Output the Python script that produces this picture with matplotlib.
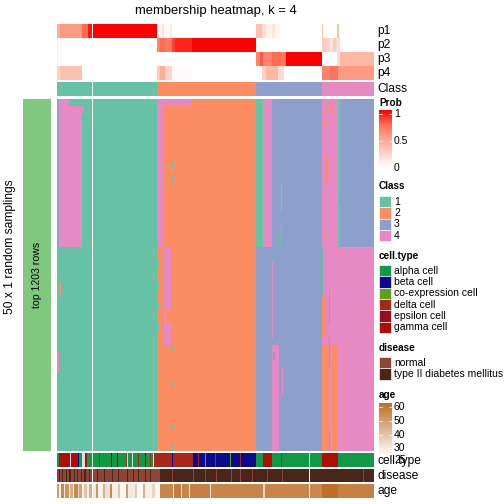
import numpy as np
import matplotlib.pyplot as plt
from matplotlib.colors import ListedColormap, LinearSegmentedColormap
from matplotlib.patches import Rectangle

plt.rcParams['font.family'] = ['Liberation Sans', 'DejaVu Sans']

# ---------------- data ----------------
# samples are ordered left to right; the first column slice has 35 samples,
# the second slice 281. Runs are (number of samples, value).
n_first = 35

p1_runs = [(3, 0.45), (22, 0.55), (6, 0.75), (4, 0.95),
           (64, 1.0), (5, 0.05), (2, 0.15), (6, 0.02), (2, 0.12), (84, 0.0),
           (6, 0.35), (4, 0.2), (6, 0.08), (3, 0.15), (5, 0.05), (42, 0.0),
           (1, 0.35), (14, 0.0), (2, 0.35), (35, 0.0)]
p2_runs = [(1, 0.1), (34, 0.0),
           (64, 0.0), (3, 0.65), (5, 0.75), (7, 0.7), (3, 0.85), (17, 0.92),
           (64, 1.0), (66, 0.0), (3, 0.3), (5, 0.25), (3, 0.15), (3, 0.3),
           (4, 0.2), (34, 0.0)]
p3_runs = [(1, 0.1), (34, 0.0),
           (163, 0.0), (4, 0.65), (3, 0.8), (9, 0.65), (8, 0.75), (6, 0.7),
           (36, 1.0), (15, 0.0), (3, 0.2), (34, 0.4)]
p4_runs = [(3, 0.25), (22, 0.35), (10, 0.0),
           (64, 0.0), (3, 0.3), (5, 0.45), (7, 0.25), (20, 0.02), (70, 0.0),
           (4, 0.25), (12, 0.4), (6, 0.2), (38, 0.0), (8, 0.65), (8, 0.72),
           (36, 0.55)]
class_runs = [(35, 1), (64, 1), (99, 2), (66, 3), (52, 4)]

# membership of each sample in 50 random samplings (rows)
n_samplings = 50
n_upper = 21
upper_runs = [(2, 3), (23, 4), (10, 1),
              (64, 1), (7, 4), (92, 2), (7, 1), (9, 4), (50, 3), (16, 4),
              (1, 1), (1, 2), (34, 3)]
lower_runs = [(35, 1),
              (64, 1), (7, 2), (7, 2), (85, 2), (66, 3), (52, 4)]
# (first row, rows, first sample, samples, class)
overrides = [
    (0, 1, 12, 13, 1), (1, 1, 25, 2, 4), (0, 1, 106, 28, 4),
    (21, 14, 106, 7, 4), (30, 2, 108, 5, 2),
    (9, 1, 114, 1, 1), (11, 1, 114, 1, 1), (35, 1, 114, 1, 1),
    (40, 1, 114, 1, 1), (46, 1, 114, 1, 1), (49, 1, 114, 1, 1),
    (23, 1, 100, 1, 1), (26, 1, 100, 1, 1), (29, 1, 100, 1, 1), (32, 1, 100, 1, 1),
    (26, 2, 2, 2, 2),
    (12, 4, 223, 1, 4), (18, 1, 223, 1, 4), (19, 2, 222, 1, 1),
    (35, 15, 214, 7, 4), (23, 11, 214, 1, 4), (36, 1, 215, 2, 3),
    (38, 4, 224, 1, 4),
    (21, 7, 264, 1, 1), (28, 6, 264, 3, 2), (35, 15, 264, 7, 2),
    (35, 15, 274, 6, 2),
    (27, 5, 271, 1, 3), (34, 4, 271, 1, 3), (47, 3, 271, 1, 3),
    (1, 1, 267, 3, 2), (1, 1, 274, 2, 2), (3, 1, 267, 2, 2),
    (8, 4, 267, 3, 2), (19, 1, 267, 2, 2),
    (14, 1, 281, 1, 3), (36, 3, 0, 2, 4),
]

cell_types = ['alpha cell', 'beta cell', 'co-expression cell', 'delta cell',
              'epsilon cell', 'gamma cell']
NA = np.nan
celltype_runs = [(2, 0), (11, 5), (1, NA), (7, 5), (1, 1), (3, 0), (3, NA), (2, 5), (5, 0),
                 (6, 0), (1, 3), (11, 0), (1, 1), (5, 0), (1, 1), (8, 0), (1, 3), (1, NA),
                 (4, 0), (1, NA), (5, 0), (1, 3), (6, 0), (1, 1), (4, 0), (1, 3), (2, 0),
                 (1, NA), (3, 3),
                 (15, 3), (1, 1), (20, 3), (5, 1), (1, 3), (6, 1), (1, 2), (9, 1), (1, 3),
                 (14, 1), (1, 2), (9, 1), (1, 3), (15, 1),
                 (7, 0), (9, 5), (9, 0), (1, 3), (27, 0), (1, NA), (12, 0),
                 (16, 5), (36, 0)]
diseases = ['normal', 'type II diabetes mellitus']
disease_runs = [(2, 0), (1, 1), (2, 0), (1, 1), (3, 0), (1, 1), (2, 0), (2, 1), (3, 0),
                (1, 1), (2, 0), (1, 1), (3, 0), (1, 1), (2, 0), (2, 1), (3, 0), (1, 1), (2, 0),
                (4, 0), (1, 1), (6, 0), (1, 1), (7, 0), (1, 1), (5, 0), (1, 1), (8, 0),
                (1, 1), (5, 0), (1, 1), (4, 0), (1, 1), (6, 0), (1, 1), (4, 0), (1, 1), (9, 0),
                (12, 1), (1, 0), (20, 1), (1, 0), (11, 1), (1, 0), (10, 1), (1, 0),
                (14, 1), (1, 0), (8, 1), (1, 0), (11, 1), (1, 0), (14, 1), (1, 0),
                (14, 1), (1, 0), (26, 1), (1, NA), (53, 1), (1, 0), (10, 1)]
age_runs = [(2, 50), (2, 27), (3, 55), (1, 30), (4, 52), (1, 26), (3, 45), (1, 27),
            (4, 55), (1, 35), (3, 48), (2, 26), (3, 40), (2, 28), (3, 45),
            (3, 30), (2, 52), (5, 27), (2, 45), (5, 32), (2, 55), (6, 28), (2, 40),
            (6, 26), (2, 50), (7, 30), (2, 38), (6, 26), (2, 45), (7, 28), (3, 35),
            (5, 26),
            (13, 56), (1, 27), (7, 58), (1, 28), (7, 56), (1, 26), (20, 57), (1, 30),
            (52, 56), (2, 35), (44, 56), (1, NA), (12, 55), (16, 62), (36, 57)]

age_ticks = [60, 50, 40, 30, 25]
prob_ticks = [1, 0.5, 0]

# ---------------- helpers ----------------
def expand(runs):
    counts = [c for c, v in runs]
    vals = [v for c, v in runs]
    return np.repeat(np.array(vals, dtype=float), counts)


def with_gap(arr):
    return np.insert(arr, n_first, np.nan, axis=-1)


W = H = 504
fig = plt.figure(figsize=(7, 7), dpi=72)


def px_axes(x0, y0, x1, y1):
    ax = fig.add_axes([x0 / W, 1 - y1 / H, (x1 - x0) / W, (y1 - y0) / H])
    ax.axis('off')
    return ax


def draw_row(ax, mat, cmap, vmin, vmax):
    ax.imshow(mat, cmap=cmap, vmin=vmin, vmax=vmax, aspect='auto',
              interpolation='nearest')


class_colors = ['#66C2A5', '#FC8D62', '#8DA0CB', '#E78AC3']
cell_colors = ['#109A45', '#0A0A8E', '#5BA11B', '#A8261A', '#9A0E22', '#B00E05']
disease_colors = ['#8E4538', '#4A2519']

prob_cmap = LinearSegmentedColormap.from_list(
    'prob', ['#FFFFFF', '#FFD3C6', '#FFA68E', '#FF6E55', '#FF0000'])
prob_cmap.set_bad('white')
class_cmap = ListedColormap(class_colors)
class_cmap.set_bad('white')
cell_cmap = ListedColormap(cell_colors)
cell_cmap.set_bad('#DDDDDD')
dis_cmap = ListedColormap(disease_colors)
dis_cmap.set_bad('white')
age_cmap = LinearSegmentedColormap.from_list('age', ['#FFFFFF', '#C06E26'])
age_cmap.set_bad('white')

X0, X1 = 57, 374

# top annotation: membership probabilities
probs = np.vstack([expand(r) for r in [p1_runs, p2_runs, p3_runs, p4_runs]])
ax = px_axes(X0, 24, X1, 80)
draw_row(ax, with_gap(probs), prob_cmap, 0, 1)

ax = px_axes(X0, 82, X1, 96)
draw_row(ax, with_gap(expand(class_runs))[None, :], class_cmap, 0.5, 4.5)

# main heatmap
mat = np.zeros((n_samplings, n_first + 281))
mat[:n_upper] = expand(upper_runs)
mat[n_upper:] = expand(lower_runs)
for r0, nr, s0, ns, cl in overrides:
    mat[r0:r0 + nr, s0:s0 + ns] = cl
ax = px_axes(X0, 99, X1, 451)
draw_row(ax, with_gap(mat), class_cmap, 0.5, 4.5)

# bottom annotations
ax = px_axes(X0, 453, X1, 467)
draw_row(ax, with_gap(expand(celltype_runs))[None, :], cell_cmap, -0.5, 5.5)
ax = px_axes(X0, 469, X1, 482)
draw_row(ax, with_gap(expand(disease_runs))[None, :], dis_cmap, -0.5, 1.5)
ax = px_axes(X0, 484, X1, 498)
draw_row(ax, with_gap(expand(age_runs))[None, :], age_cmap, 24, 62)

# legend colour bars
ax = px_axes(379, 110, 392, 168)
ax.imshow(np.linspace(1, 0, 100)[:, None], cmap=prob_cmap, aspect='auto')
ax = px_axes(379, 403, 392, 455)
ax.imshow(np.linspace(62, 25, 100)[:, None], cmap=age_cmap, vmin=24, vmax=62,
          aspect='auto')

# overlay for text and legend keys, in pixel coordinates
ov = fig.add_axes([0, 0, 1, 1])
ov.set_xlim(0, W)
ov.set_ylim(H, 0)
ov.axis('off')

ov.text(215.5, 11, 'membership heatmap, k = 4', fontsize=13, ha='center', va='center')
ov.add_patch(Rectangle((23, 99), 28, 352, color='#7FC97F', lw=0))
ov.text(37, 275, 'top 1203 rows', fontsize=10.5, rotation=90, ha='center', va='center')
ov.text(10, 247, '50 x 1 random samplings', fontsize=12, rotation=90,
        ha='center', va='center')

for lab, y in zip(['p1', 'p2', 'p3', 'p4', 'Class'], [31, 45, 59, 73, 89]):
    ov.text(377, y, lab, fontsize=12, va='center')
for lab, y in zip(['cell.type', 'disease', 'age'], [461, 476, 491]):
    ov.text(377, y, lab, fontsize=12, va='center')

# Prob legend
ov.text(379, 103, 'Prob', fontsize=10, fontweight='bold', va='center')
for v, y in zip(prob_ticks, [114, 141, 168]):
    ov.text(394, y, f'{v:g}', fontsize=10.4, va='center')
for y in [114, 141]:
    ov.plot([379, 382], [y, y], color='white', lw=0.7)
    ov.plot([389, 392], [y, y], color='white', lw=0.7)


def key_legend(title, y_title, labels, colors, y_first):
    ov.text(379, y_title, title, fontsize=10, fontweight='bold', va='center')
    step = 11.3
    for i, (lab, col) in enumerate(zip(labels, colors)):
        y = y_first + i * step
        ov.add_patch(Rectangle((379, y), 12, step, facecolor=col,
                               edgecolor='white', lw=0.6))
        ov.text(394, y + step / 2, lab, fontsize=10.4, va='center')


key_legend('Class', 186, ['1', '2', '3', '4'], class_colors, 196)
key_legend('cell.type', 256, cell_types, cell_colors, 265)
key_legend('disease', 348, diseases, disease_colors, 357)

ov.text(379, 395, 'age', fontsize=10, fontweight='bold', va='center')
for v, y in zip(age_ticks, [407, 421, 435, 448, 460]):
    ov.text(394, y, str(v), fontsize=10.4, va='center')
for y in [407, 421, 435, 448]:
    ov.plot([379, 382], [y, y], color='white', lw=0.7)
    ov.plot([389, 392], [y, y], color='white', lw=0.7)

fig.savefig('out.png', dpi=72)
